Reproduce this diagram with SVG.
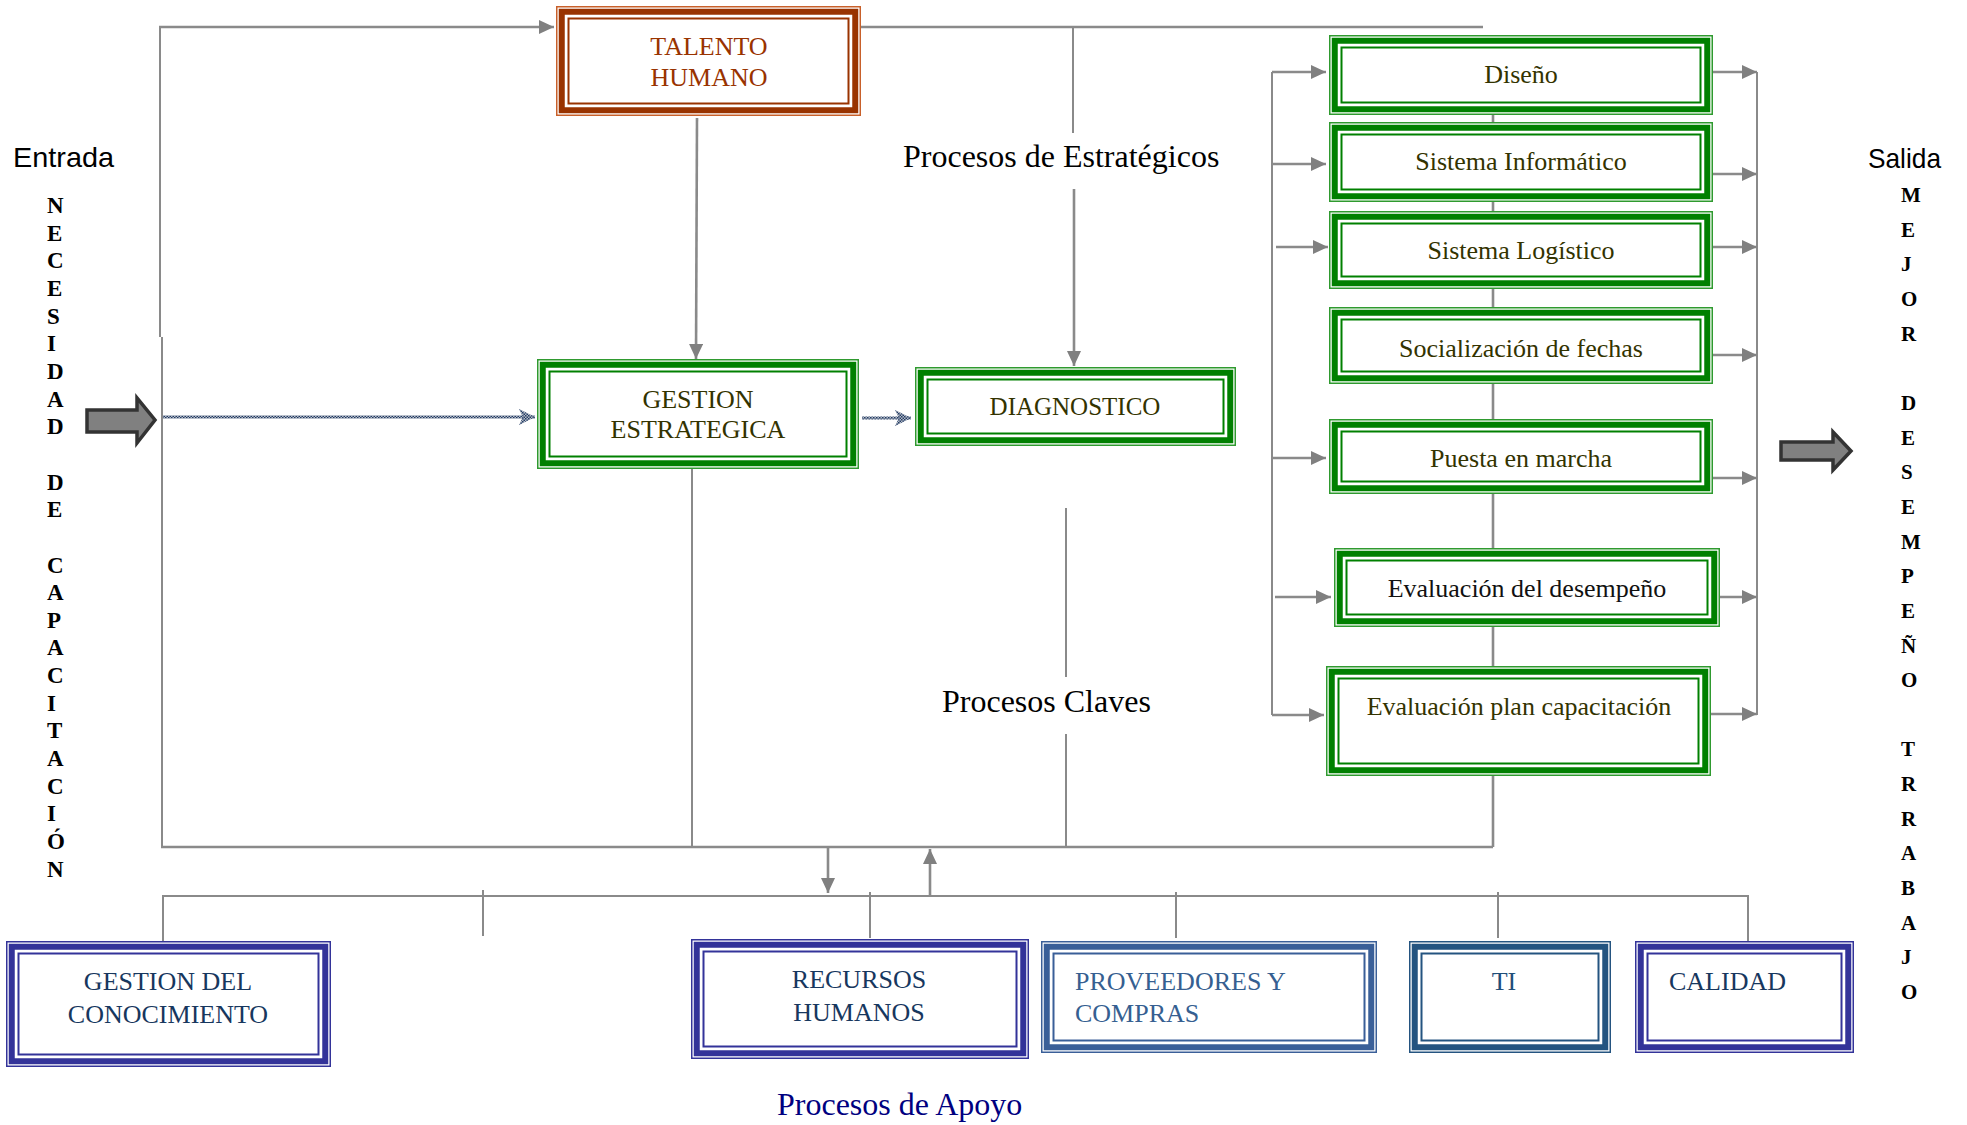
<svg xmlns="http://www.w3.org/2000/svg" width="1967" height="1125" viewBox="0 0 1967 1125">
<style>
.o{fill:#fff;stroke-width:1.5}
.t{fill:none;stroke-width:6}
.i{fill:none;stroke-width:2}
.brown rect{stroke:#993300}
.brown rect.o{stroke:#c8602a}
.green rect{stroke:#008000}
.green rect.o{stroke:#2f9a2f}
.indigo rect{stroke:#333399}
.steel rect{stroke:#3a5f98}
.navy rect{stroke:#245480}
.lbl{font-family:"Liberation Serif","Times New Roman",serif;font-size:26px;text-anchor:middle}
.ol{fill:#333300}
.bl{fill:#17375e}
.cap{font-family:"Liberation Serif","Times New Roman",serif;font-size:32px;fill:#000}
.vert{font-family:"Liberation Serif","Times New Roman",serif;font-weight:bold;fill:#000}
.sans{font-family:"Liberation Sans",Arial,sans-serif;font-size:28px;fill:#000}
.ln{fill:none;stroke:#8a8a8a;stroke-width:2}
.lnt{fill:none;stroke:#8a8a8a;stroke-width:2.6}
.arr{fill:none;stroke:#8a8a8a;stroke-width:2.6;marker-end:url(#ah)}
.dot{fill:none;stroke:url(#chk);stroke-width:3;marker-end:url(#ahc)}
.blk{fill:#808080;stroke:#333;stroke-width:3.5;stroke-linejoin:miter}
</style>
<defs>
<pattern id="chk" width="3" height="3" patternUnits="userSpaceOnUse">
<rect width="3" height="3" fill="#b8bcc4"/>
<rect width="1.5" height="1.5" fill="#1f3a66"/>
<rect x="1.5" y="1.5" width="1.5" height="1.5" fill="#1f3a66"/>
</pattern>
<marker id="ah" markerUnits="userSpaceOnUse" markerWidth="16" markerHeight="14" refX="15" refY="7" orient="auto">
<path d="M0,0 L15,7 L0,14 z" fill="#808080"/>
</marker>
<marker id="ahc" markerUnits="userSpaceOnUse" markerWidth="17" markerHeight="16" refX="16" refY="8" orient="auto">
<path d="M0,0 L16,8 L0,16 L4,8 z" fill="url(#chk)"/>
</marker>
</defs>
<rect width="1967" height="1125" fill="#fff"/>

<g id="connectors">
<path class="lnt" d="M1493,115 V847"/>
<path class="arr" d="M159,27 H554"/>
<path class="lnt" d="M861,27 H1483"/>
<path class="ln" d="M160,27 V337 M162,337 V847"/>
<path class="arr" d="M697,118 L696,359"/>
<path class="dot" d="M163,417 H535"/>
<path class="dot" d="M862,418 H911"/>
<path class="ln" d="M1073,27 V133"/>
<path class="arr" d="M1074,189 V366"/>
<path class="ln" d="M692,469 V847"/>
<path class="ln" d="M1066,508 V677 M1066,734 V847"/>
<path class="lnt" d="M161,847 H1493"/>
<path class="ln" d="M1272,72 V715"/>
<path class="arr" d="M1272,72 H1326"/>
<path class="arr" d="M1272,164 H1326"/>
<path class="arr" d="M1276,247 H1328"/>
<path class="arr" d="M1272,458 H1326"/>
<path class="arr" d="M1275,597 H1331"/>
<path class="arr" d="M1272,715 H1324"/>
<path class="ln" d="M1757,72 V715"/>
<path class="arr" d="M1713,72 H1757"/>
<path class="arr" d="M1713,174 H1757"/>
<path class="arr" d="M1713,247 H1757"/>
<path class="arr" d="M1713,355 H1757"/>
<path class="arr" d="M1713,478 H1757"/>
<path class="arr" d="M1720,597 H1757"/>
<path class="arr" d="M1711,714 H1757"/>
<path class="arr" d="M828,847 V893"/>
<path class="arr" d="M930,896 V849"/>
<path class="ln" d="M163,942 V896 H1748 V942"/>
<path class="ln" d="M483,890 V936"/>
<path class="ln" d="M870,892 V938"/>
<path class="ln" d="M1176,892 V938"/>
<path class="ln" d="M1498,892 V938"/>
</g>

<g id="input-arrow"><path class="blk" d="M87,410 H137 V398 L155,420 L137,443 V432 H87 z"/></g>
<g id="output-arrow"><path class="blk" d="M1781,442 H1833 V432 L1851,451 L1833,470 V460 H1781 z"/></g>

<g id="entrada"><text class="sans" x="13" y="167" textLength="101" lengthAdjust="spacingAndGlyphs">Entrada</text></g>
<g id="salida"><text class="sans" x="1868" y="168" textLength="73" lengthAdjust="spacingAndGlyphs">Salida</text></g>

<g id="necesidad">
<text class="vert" font-size="23">
<tspan x="47" y="213">N</tspan><tspan x="47" y="240.6">E</tspan><tspan x="47" y="268.3">C</tspan><tspan x="47" y="296">E</tspan><tspan x="47" y="323.6">S</tspan><tspan x="47" y="351.3">I</tspan><tspan x="47" y="378.9">D</tspan><tspan x="47" y="406.6">A</tspan><tspan x="47" y="434.2">D</tspan>
<tspan x="47" y="489.5">D</tspan><tspan x="47" y="517.2">E</tspan>
<tspan x="47" y="572.5">C</tspan><tspan x="47" y="600.1">A</tspan><tspan x="47" y="627.8">P</tspan><tspan x="47" y="655.4">A</tspan><tspan x="47" y="683">C</tspan><tspan x="47" y="710.7">I</tspan><tspan x="47" y="738.4">T</tspan><tspan x="47" y="766">A</tspan><tspan x="47" y="793.7">C</tspan><tspan x="47" y="821.3">I</tspan><tspan x="47" y="849">Ó</tspan><tspan x="47" y="876.6">N</tspan>
</text>
</g>

<g id="mejor">
<text class="vert" font-size="21">
<tspan x="1901" y="202">M</tspan><tspan x="1901" y="236.7">E</tspan><tspan x="1901" y="271.3">J</tspan><tspan x="1901" y="306">O</tspan><tspan x="1901" y="340.6">R</tspan>
<tspan x="1901" y="409.9">D</tspan><tspan x="1901" y="444.6">E</tspan><tspan x="1901" y="479.2">S</tspan><tspan x="1901" y="513.9">E</tspan><tspan x="1901" y="548.5">M</tspan><tspan x="1901" y="583.2">P</tspan><tspan x="1901" y="617.8">E</tspan><tspan x="1901" y="652.5">Ñ</tspan><tspan x="1901" y="687.1">O</tspan>
<tspan x="1901" y="756.4">T</tspan><tspan x="1901" y="791">R</tspan><tspan x="1901" y="825.7">R</tspan><tspan x="1901" y="860.4">A</tspan><tspan x="1901" y="895">B</tspan><tspan x="1901" y="929.7">A</tspan><tspan x="1901" y="964.3">J</tspan><tspan x="1901" y="999">O</tspan>
</text>
</g>

<g id="label-estrategicos"><text class="cap" x="903" y="167">Procesos de Estratégicos</text></g>
<g id="label-claves"><text class="cap" x="942" y="712">Procesos Claves</text></g>
<g id="label-apoyo"><text class="cap" x="777" y="1115" style="fill:#000080">Procesos de Apoyo</text></g>

<g id="talento" class="brown">
<rect class="o" x="556.75" y="6.75" width="303.5" height="108.5"/>
<rect class="t" x="561.75" y="11.75" width="293.5" height="98.5"/>
<rect class="i" x="568.5" y="18.5" width="280" height="85"/>
<text class="lbl" x="709" y="55" fill="#993300">TALENTO</text>
<text class="lbl" x="709" y="86" fill="#993300">HUMANO</text>
</g>

<g id="gestion-estrategica" class="green">
<rect class="o" x="537.75" y="359.75" width="320.5" height="108.5"/>
<rect class="t" x="542.75" y="364.75" width="310.5" height="98.5"/>
<rect class="i" x="549.5" y="371.5" width="297" height="85"/>
<text class="lbl ol" x="698" y="408">GESTION</text>
<text class="lbl ol" x="698" y="438">ESTRATEGICA</text>
</g>

<g id="diagnostico" class="green">
<rect class="o" x="915.75" y="367.75" width="319.5" height="77.5"/>
<rect class="t" x="920.75" y="372.75" width="309.5" height="67.5"/>
<rect class="i" x="927.5" y="379.5" width="296" height="54"/>
<text class="lbl ol" x="1075" y="415" style="font-size:25px">DIAGNOSTICO</text>
</g>

<g id="diseno" class="green">
<rect class="o" x="1329.75" y="35.75" width="382.5" height="78.5"/>
<rect class="t" x="1334.75" y="40.75" width="372.5" height="68.5"/>
<rect class="i" x="1341.5" y="47.5" width="359" height="55"/>
<text class="lbl ol" x="1521" y="83">Diseño</text>
</g>

<g id="sistema-informatico" class="green">
<rect class="o" x="1329.75" y="122.75" width="382.5" height="78.5"/>
<rect class="t" x="1334.75" y="127.75" width="372.5" height="68.5"/>
<rect class="i" x="1341.5" y="134.5" width="359" height="55"/>
<text class="lbl ol" x="1521" y="170">Sistema Informático</text>
</g>

<g id="sistema-logistico" class="green">
<rect class="o" x="1329.75" y="211.75" width="382.5" height="76.5"/>
<rect class="t" x="1334.75" y="216.75" width="372.5" height="66.5"/>
<rect class="i" x="1341.5" y="223.5" width="359" height="53"/>
<text class="lbl ol" x="1521" y="259">Sistema Logístico</text>
</g>

<g id="socializacion" class="green">
<rect class="o" x="1329.75" y="307.75" width="382.5" height="75.5"/>
<rect class="t" x="1334.75" y="312.75" width="372.5" height="65.5"/>
<rect class="i" x="1341.5" y="319.5" width="359" height="52"/>
<text class="lbl ol" x="1521" y="357">Socialización de fechas</text>
</g>

<g id="puesta-en-marcha" class="green">
<rect class="o" x="1329.75" y="419.75" width="382.5" height="73.5"/>
<rect class="t" x="1334.75" y="424.75" width="372.5" height="63.5"/>
<rect class="i" x="1341.5" y="431.5" width="359" height="50"/>
<text class="lbl ol" x="1521" y="467">Puesta en marcha</text>
</g>

<g id="evaluacion-desempeno" class="green">
<rect class="o" x="1334.75" y="548.75" width="384.5" height="77.5"/>
<rect class="t" x="1339.75" y="553.75" width="374.5" height="67.5"/>
<rect class="i" x="1346.5" y="560.5" width="361" height="54"/>
<text class="lbl" x="1527" y="597" fill="#111">Evaluación del desempeño</text>
</g>

<g id="evaluacion-plan" class="green">
<rect class="o" x="1326.75" y="666.75" width="383.5" height="108.5"/>
<rect class="t" x="1331.75" y="671.75" width="373.5" height="98.5"/>
<rect class="i" x="1338.5" y="678.5" width="360" height="85"/>
<text class="lbl ol" x="1519" y="715">Evaluación plan capacitación</text>
</g>

<g id="gestion-conocimiento" class="indigo">
<rect class="o" x="6.75" y="941.75" width="323.5" height="124.5"/>
<rect class="t" x="11.75" y="946.75" width="313.5" height="114.5"/>
<rect class="i" x="18.5" y="953.5" width="300" height="101"/>
<text class="lbl bl" x="168" y="990">GESTION DEL</text>
<text class="lbl bl" x="168" y="1023">CONOCIMIENTO</text>
</g>

<g id="recursos-humanos" class="indigo">
<rect class="o" x="691.75" y="939.75" width="336.5" height="118.5"/>
<rect class="t" x="696.75" y="944.75" width="326.5" height="108.5"/>
<rect class="i" x="703.5" y="951.5" width="313" height="95"/>
<text class="lbl bl" x="859" y="988">RECURSOS</text>
<text class="lbl bl" x="859" y="1021">HUMANOS</text>
</g>

<g id="proveedores" class="steel">
<rect class="o" x="1041.75" y="941.75" width="334.5" height="110.5"/>
<rect class="t" x="1046.75" y="946.75" width="324.5" height="100.5"/>
<rect class="i" x="1053.5" y="953.5" width="311" height="87"/>
<text class="lbl" x="1075" y="990" style="text-anchor:start;fill:#365f91">PROVEEDORES Y</text>
<text class="lbl" x="1075" y="1022" style="text-anchor:start;fill:#365f91">COMPRAS</text>
</g>

<g id="ti" class="navy">
<rect class="o" x="1409.75" y="941.75" width="200.5" height="110.5"/>
<rect class="t" x="1414.75" y="946.75" width="190.5" height="100.5"/>
<rect class="i" x="1421.5" y="953.5" width="177" height="87"/>
<text class="lbl" x="1504" y="990" fill="#1f4e79">TI</text>
</g>

<g id="calidad" class="indigo">
<rect class="o" x="1635.75" y="941.75" width="217.5" height="110.5"/>
<rect class="t" x="1640.75" y="946.75" width="207.5" height="100.5"/>
<rect class="i" x="1647.5" y="953.5" width="194" height="87"/>
<text class="lbl bl" x="1669" y="990" style="text-anchor:start">CALIDAD</text>
</g>
</svg>
